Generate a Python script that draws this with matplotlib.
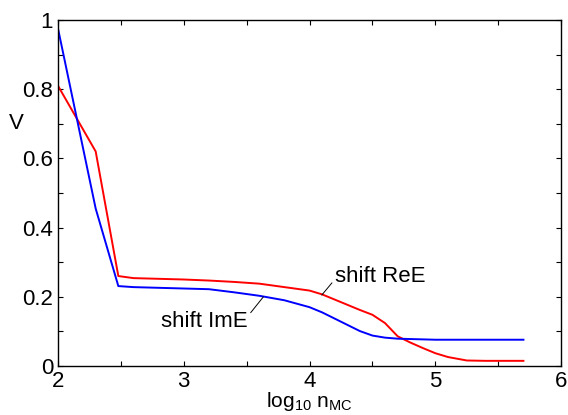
import matplotlib
matplotlib.use('Agg')
import matplotlib.pyplot as plt

plt.rcParams['font.family'] = ['Liberation Sans', 'DejaVu Sans']
plt.rcParams['mathtext.default'] = 'regular'

# log10 of the Monte Carlo sample count
log_n = [2.0, 2.3, 2.48, 2.6, 2.8, 3.0, 3.2, 3.4, 3.6, 3.8, 4.0, 4.1, 4.2,
         4.3, 4.4, 4.5, 4.6, 4.7, 4.8, 4.9, 5.0, 5.1, 5.25, 5.4, 5.7]
v_re = [0.81, 0.62, 0.26, 0.254, 0.252, 0.25, 0.247, 0.243, 0.238, 0.228,
        0.218, 0.207, 0.192, 0.177, 0.162, 0.148, 0.124, 0.086, 0.068,
        0.052, 0.037, 0.026, 0.016, 0.015, 0.015]
v_im = [0.976, 0.455, 0.231, 0.228, 0.226, 0.224, 0.222, 0.213, 0.203,
        0.19, 0.17, 0.155, 0.137, 0.119, 0.101, 0.088, 0.082, 0.079,
        0.078, 0.077, 0.076, 0.076, 0.076, 0.076, 0.076]

fs = 16

fig = plt.figure(figsize=(5.68, 4.15), dpi=100)
ax = fig.add_axes([0.102, 0.118, 0.886, 0.834])

ax.plot(log_n, v_re, color='#ff0000', lw=1.4)
ax.plot(log_n, v_im, color='#0000ff', lw=1.4)

ax.set_xlim(2, 6)
ax.set_ylim(0, 1)
ax.set_xticks([2, 3, 4, 5, 6])
ax.set_xticks([2.5, 3.5, 4.5, 5.5], minor=True)
ax.set_yticks([0, 0.2, 0.4, 0.6, 0.8, 1])
ax.set_yticklabels(['0', '0.2', '0.4', '0.6', '0.8', '1'])
ax.set_yticks([0.1, 0.3, 0.5, 0.7, 0.9], minor=True)
ax.tick_params(which='both', direction='in', top=True, right=True,
               length=3.5, width=0.8, labelsize=fs)
ax.tick_params(axis='x', pad=3.5)
ax.tick_params(axis='y', pad=3.5)
for s in ax.spines.values():
    s.set_linewidth(1.0)

ax.set_xlabel('log$_{10}$ n$_{MC}$', fontsize=15, labelpad=-1.5)
ax.set_ylabel('V', rotation=0, fontsize=fs, va='center', ha='center')
ax.yaxis.set_label_coords(-0.083, 0.70)

# curve labels with leader lines
ax.annotate('shift ReE', xy=(4.097, 0.205), xytext=(4.2, 0.259),
            fontsize=fs, va='center', ha='left',
            arrowprops=dict(arrowstyle='-', color='black', lw=0.7,
                            shrinkA=0, shrinkB=0, relpos=(0, 0.35)))
ax.annotate('shift ImE', xy=(3.633, 0.2), xytext=(3.51, 0.129),
            fontsize=fs, va='center', ha='right',
            arrowprops=dict(arrowstyle='-', color='black', lw=0.7,
                            shrinkA=0, shrinkB=0, relpos=(1, 0.75)))

fig.savefig('out.png', dpi=100)
